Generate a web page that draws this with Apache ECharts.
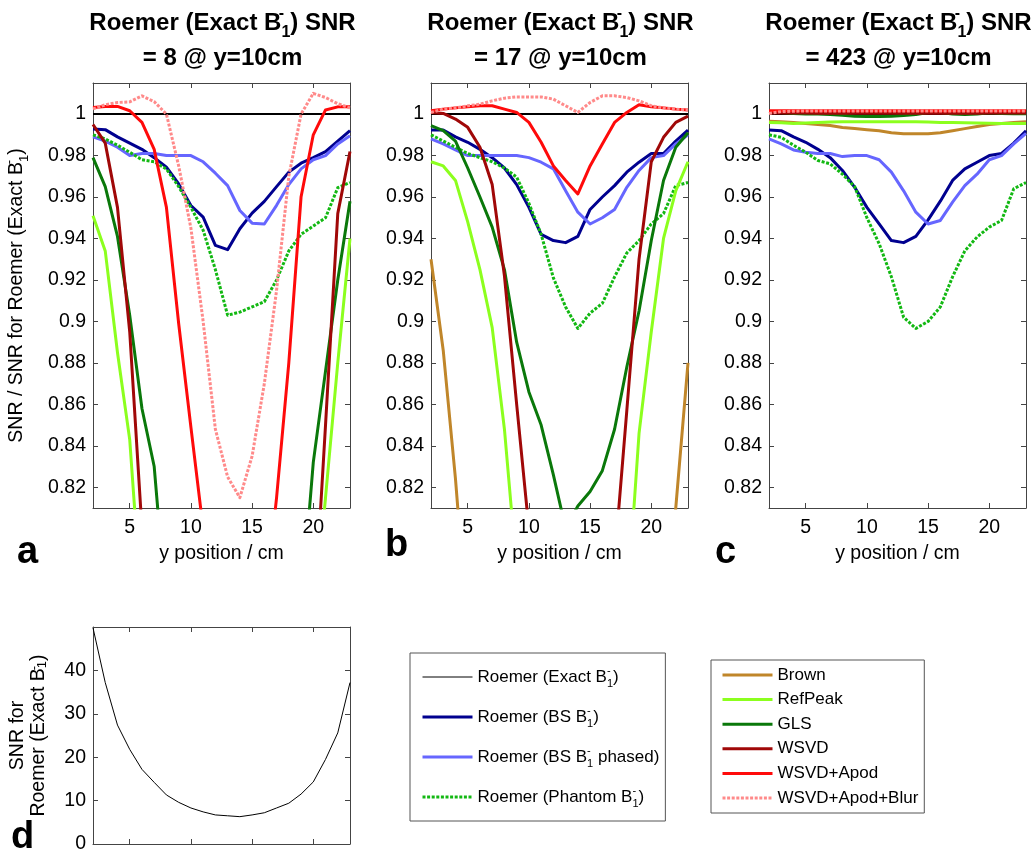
<!DOCTYPE html>
<html><head><meta charset="utf-8">
<script src="https://cdn.jsdelivr.net/npm/echarts@6/dist/echarts.min.js"></script>
<style>html,body{margin:0;padding:0;background:#fff}#c{width:1034px;height:854px}</style>
</head><body><div id="c"></div>
<script>
// ---------------- data ----------------
const yPos = [2,3,4,5,6,7,8,9,10,11,12,13,14,15,16,17,18,19,20,21,22,23];
const xTicks = [5,10,15,20];
const ratioTicks = [0.82,0.84,0.86,0.88,0.9,0.92,0.94,0.96,0.98,1];
const snrTicks = [0,10,20,30,40];
const panelSNR = ['8','17','423'];

// Panel a (SNR = 8)
const exactA   = [1,1,1,1,1,1,1,1,1,1,1,1,1,1,1,1,1,1,1,1,1,1];
const bsA      = [0.9928,0.9925,0.989,0.986,0.983,0.979,0.9744,0.9663,0.9559,0.9503,0.9367,0.9346,0.9447,0.9522,0.9579,0.965,0.972,0.9763,0.979,0.9819,0.987,0.992];
const phasedA  = [0.989,0.987,0.984,0.980,0.981,0.981,0.980,0.980,0.980,0.977,0.9715,0.9655,0.9535,0.9474,0.947,0.956,0.966,0.9736,0.978,0.980,0.9856,0.9895];
const phantomA = [0.990,0.988,0.985,0.9816,0.978,0.977,0.9735,0.965,0.955,0.944,0.925,0.903,0.9045,0.907,0.9095,0.920,0.934,0.942,0.946,0.950,0.9645,0.967];
const brownA   = [0.78,0.75,0.72,0.70,0.68,0.66,0.65,0.64,0.63,0.62,0.62,0.62,0.62,0.62,0.63,0.64,0.65,0.66,0.68,0.70,0.73,0.77];
const refA     = [0.951,0.934,0.885,0.843,0.76,0.70,0.66,0.64,0.62,0.61,0.60,0.60,0.60,0.61,0.62,0.64,0.66,0.70,0.75,0.815,0.88,0.94];
const glsA     = [0.979,0.965,0.941,0.903,0.858,0.83,0.76,0.70,0.66,0.64,0.63,0.62,0.62,0.63,0.64,0.66,0.70,0.76,0.832,0.876,0.92,0.958];
const wsvdA    = [0.995,0.986,0.955,0.895,0.80,0.70,0.64,0.61,0.60,0.60,0.60,0.60,0.60,0.60,0.61,0.63,0.66,0.70,0.75,0.85,0.952,0.982];
const apodA    = [1.0032,1.0037,1.0037,1.0016,0.996,0.983,0.955,0.899,0.849,0.80,0.75,0.71,0.70,0.72,0.76,0.815,0.88,0.96,0.99,1.002,1.0035,1.0035];
const blurA    = [1.0025,1.0045,1.0056,1.0059,1.0088,1.006,1.0,0.975,0.945,0.90,0.848,0.825,0.815,0.835,0.87,0.915,0.97,1.0,1.0100,1.008,1.005,1.003];

// Panel b (SNR = 17)
const exactB   = [1,1,1,1,1,1,1,1,1,1,1,1,1,1,1,1,1,1,1,1,1,1];
const bsB      = [0.9923,0.9923,0.989,0.9864,0.983,0.979,0.974,0.966,0.955,0.942,0.939,0.938,0.941,0.954,0.960,0.9655,0.972,0.9768,0.981,0.981,0.987,0.9923];
const phasedB  = [0.988,0.9856,0.9827,0.980,0.980,0.980,0.980,0.980,0.979,0.9768,0.9736,0.963,0.9527,0.947,0.950,0.954,0.9647,0.9728,0.979,0.980,0.9856,0.990];
const phantomB = [0.990,0.987,0.984,0.981,0.979,0.977,0.974,0.9696,0.957,0.942,0.921,0.907,0.8966,0.904,0.9087,0.9215,0.933,0.939,0.947,0.952,0.9655,0.967];
const brownB   = [0.930,0.886,0.824,0.75,0.70,0.67,0.65,0.64,0.63,0.62,0.62,0.62,0.62,0.62,0.63,0.64,0.65,0.66,0.68,0.74,0.81,0.88];
const refB     = [0.977,0.975,0.968,0.948,0.925,0.897,0.848,0.78,0.73,0.70,0.69,0.69,0.69,0.70,0.72,0.75,0.76,0.846,0.895,0.94,0.963,0.977];
const glsB     = [0.9944,0.992,0.987,0.974,0.960,0.9455,0.925,0.89,0.866,0.850,0.826,0.80,0.811,0.818,0.828,0.848,0.878,0.905,0.939,0.968,0.984,0.991];
const wsvdB    = [1.0008,1.0003,0.9976,0.9936,0.984,0.966,0.922,0.86,0.80,0.74,0.70,0.69,0.69,0.70,0.72,0.785,0.857,0.93,0.977,0.9888,0.996,0.999];
const apodB    = [1.0016,1.0024,1.003,1.0035,1.004,1.004,1.0024,1.0008,0.996,0.9864,0.975,0.968,0.9615,0.975,0.9856,0.996,1.0008,1.0045,1.0035,1.003,1.0024,1.002];
const blurB    = [1.0008,1.0024,1.003,1.004,1.0048,1.0064,1.0077,1.0083,1.0083,1.0083,1.0072,1.004,1.0008,1.0056,1.0088,1.0088,1.008,1.0064,1.004,1.003,1.0024,1.002];

// Panel c (SNR = 423)
const exactC   = [1,1,1,1,1,1,1,1,1,1,1,1,1,1,1,1,1,1,1,1,1,1];
const bsC      = [0.9923,0.992,0.989,0.9864,0.983,0.979,0.9728,0.9647,0.955,0.947,0.939,0.938,0.941,0.949,0.958,0.968,0.9736,0.9768,0.980,0.981,0.986,0.992];
const phasedC  = [0.988,0.9856,0.9827,0.9816,0.981,0.981,0.9795,0.980,0.980,0.978,0.972,0.963,0.9527,0.947,0.9487,0.9575,0.9655,0.971,0.978,0.980,0.9856,0.9907];
const phantomC = [0.990,0.9888,0.985,0.9816,0.9776,0.976,0.971,0.965,0.950,0.9375,0.9215,0.902,0.8966,0.900,0.907,0.9215,0.934,0.9407,0.9455,0.9487,0.964,0.967];
const brownC   = [0.9965,0.9963,0.996,0.9955,0.995,0.9945,0.9935,0.993,0.9925,0.992,0.991,0.9905,0.9905,0.9905,0.991,0.992,0.993,0.994,0.995,0.9955,0.996,0.9963];
const refC     = [0.996,0.9958,0.9955,0.9957,0.996,0.9962,0.9963,0.9963,0.9963,0.9963,0.9963,0.9963,0.9963,0.9962,0.996,0.996,0.9958,0.9957,0.9956,0.9955,0.9955,0.9955];
const glsC     = [1.0012,1.0008,1.0003,1.0,1.0,0.9998,0.9995,0.999,0.9988,0.9988,0.999,0.9993,0.9998,1.0008,1.0008,1.0,0.9998,1.0,1.0006,1.0003,1.0002,1.0002];
const wsvdC    = [1.0005,1.0005,1.0005,1.0005,1.0004,1.0004,1.0004,1.0004,1.0004,1.0004,1.0004,1.0004,1.0004,1.0004,1.0004,1.0004,1.0004,1.0004,1.0005,1.0005,1.0005,1.0005];
const apodC    = [1.0016,1.0016,1.0016,1.0016,1.0016,1.0016,1.0016,1.0016,1.0016,1.0016,1.0016,1.0016,1.0016,1.0016,1.0016,1.0016,1.0016,1.0016,1.0016,1.0016,1.0016,1.0016];
const blurC    = [1.0003,1.0012,1.0014,1.0015,1.0015,1.0015,1.0015,1.0015,1.0015,1.0015,1.0015,1.0015,1.0015,1.0015,1.0015,1.0015,1.0015,1.0015,1.0015,1.0015,1.0015,1.0015];

// Panel d: absolute SNR of Roemer (Exact B1-)
const snrExact = [49.8,37.2,27.4,21.8,17.2,14.2,11.3,9.6,8.3,7.4,6.7,6.5,6.3,6.7,7.2,8.3,9.4,11.5,14.3,19.5,25.6,37.2];

const seriesNames = ['Roemer (Exact B1)','Roemer (BS B1)','Roemer (BS B1 phased)','Roemer (Phantom B1)',
  'Brown','RefPeak','GLS','WSVD','WSVD+Apod','WSVD+Apod+Blur'];
const panelData = [
  [exactA,bsA,phasedA,phantomA,brownA,refA,glsA,wsvdA,apodA,blurA],
  [exactB,bsB,phasedB,phantomB,brownB,refB,glsB,wsvdB,apodB,blurB],
  [exactC,bsC,phasedC,phantomC,brownC,refC,glsC,wsvdC,apodC,blurC]
];

// ---------------- styles ----------------
const FONT = '"Liberation Sans", Arial, Helvetica, sans-serif';
const lineStyles = {
  'Roemer (Exact B1)':     {color:'#000000', width:2,   type:'solid'},
  'Roemer (BS B1)':        {color:'#00008f', width:3,   type:'solid'},
  'Roemer (BS B1 phased)': {color:'#6666ff', width:3,   type:'solid'},
  'Roemer (Phantom B1)':   {color:'#12b812', width:3,   type:[3,1.6]},
  'Brown':                 {color:'#c0862a', width:3,   type:'solid'},
  'RefPeak':               {color:'#8cff1e', width:3,   type:'solid'},
  'GLS':                   {color:'#0a780a', width:3,   type:'solid'},
  'WSVD':                  {color:'#a00808', width:3,   type:'solid'},
  'WSVD+Apod':             {color:'#ff0a0a', width:3,   type:'solid'},
  'WSVD+Apod+Blur':        {color:'#ff8a8a', width:3,   type:[3,1.6]}
};
const legendLabels = {
  'Roemer (Exact B1)': 'Roemer (Exact B{s|-}{b|1})',
  'Roemer (BS B1)': 'Roemer (BS B{s|-}{b|1})',
  'Roemer (BS B1 phased)': 'Roemer (BS B{s|-}{b|1} phased)',
  'Roemer (Phantom B1)': 'Roemer (Phantom B{s|-}{b|1})'
};
function subsup(size, bold){
  const small = Math.round(size*0.66);
  const w = bold ? 'bold' : 'normal';
  return {
    s:{fontSize:small, fontWeight:w, fontFamily:FONT, color:'#000', lineHeight:small, verticalAlign:'top', width:0},
    b:{fontSize:small, fontWeight:w, fontFamily:FONT, color:'#000', lineHeight:small, verticalAlign:'bottom'}
  };
}

const grids = [
  {left:93, top:83, width:257, height:425},
  {left:431, top:83, width:257, height:425},
  {left:769, top:83, width:257, height:425},
  {left:93, top:627, width:257, height:218}
];
const axisLineCol = '#444';
const xAxes = [], yAxes = [];
grids.forEach((g, gi) => {
  const isD = gi === 3;
  xAxes.push({
    gridIndex: gi, type:'value', position:'bottom', min:2, max:23,
    axisLine:{show:true, onZero:false, lineStyle:{color:axisLineCol, width:1}},
    axisTick:{show:true, inside:true, length:5, customValues:xTicks, lineStyle:{color:axisLineCol}},
    axisLabel:{show:!isD, customValues:xTicks, fontSize:19.5, fontFamily:FONT, color:'#000', margin:10},
    splitLine:{show:false},
    name: isD ? '' : 'y position / cm', nameLocation:'middle', nameGap:36,
    nameTextStyle:{fontSize:19.5, fontFamily:FONT, color:'#000'}
  });
  xAxes.push({
    gridIndex: gi, type:'value', position:'top', min:2, max:23,
    axisLine:{show:true, onZero:false, lineStyle:{color:axisLineCol, width:1}},
    axisTick:{show:true, inside:true, length:5, customValues:xTicks, lineStyle:{color:axisLineCol}},
    axisLabel:{show:false}, splitLine:{show:false}
  });
  const yT = isD ? snrTicks : ratioTicks;
  const yAx = {
    gridIndex: gi, type:'value', position:'left',
    min: isD ? 0 : 0.81, max: isD ? 50 : 1.015,
    axisLine:{show:true, onZero:false, lineStyle:{color:axisLineCol, width:1}},
    axisTick:{show:true, inside:true, length:5, customValues:yT, lineStyle:{color:axisLineCol}},
    axisLabel:{show:true, customValues:yT, fontSize:19.5, fontFamily:FONT, color:'#000', margin:7,
      formatter: v => String(+v.toFixed(2))},
    splitLine:{show:false}
  };
  if (gi === 0) {
    yAx.name = 'SNR / SNR for Roemer (Exact B{s|-}{b|1})';
    yAx.nameLocation = 'middle'; yAx.nameRotate = 90; yAx.nameGap = 62;
    yAx.nameTextStyle = {fontSize:19.5, fontFamily:FONT, color:'#000', lineHeight:28, rich: subsup(19.5,false)};
  }
  if (isD) {
    yAx.name = 'SNR for\nRoemer (Exact B{s|-}{b|1})';
    yAx.nameLocation = 'middle'; yAx.nameRotate = 90; yAx.nameGap = 44;
    yAx.nameTextStyle = {fontSize:19.5, fontFamily:FONT, color:'#000', lineHeight:21, rich: subsup(19.5,false)};
  }
  yAxes.push(yAx);
  yAxes.push({
    gridIndex: gi, type:'value', position:'right',
    min: isD ? 0 : 0.81, max: isD ? 50 : 1.015,
    axisLine:{show:true, onZero:false, lineStyle:{color:axisLineCol, width:1}},
    axisTick:{show:true, inside:true, length:5, customValues:yT, lineStyle:{color:axisLineCol}},
    axisLabel:{show:false}, splitLine:{show:false}
  });
});

const series = [];
panelData.forEach((arrs, pi) => {
  arrs.forEach((arr, si) => {
    const name = seriesNames[si];
    const ls = lineStyles[name];
    series.push({
      type:'line', name, xAxisIndex: pi*2, yAxisIndex: pi*2,
      data: yPos.map((x, i) => [x, arr[i]]),
      symbol:'none', showSymbol:false, clip:true, silent:true,
      lineStyle:{color:ls.color, width:ls.width, type:ls.type, cap:'butt', join:'round'},
      itemStyle:{color:ls.color}
    });
  });
});
series.push({
  type:'line', name:'SNR exact', xAxisIndex:6, yAxisIndex:6,
  data: yPos.map((x, i) => [x, snrExact[i]]),
  symbol:'none', showSymbol:false, clip:true, silent:true,
  lineStyle:{color:'#000', width:1}, itemStyle:{color:'#000'}
});

const titleRich = subsup(24, true);
const titles = panelSNR.map((v, i) => ({
  text: 'Roemer (Exact B{s|-}{b|1}) SNR\n= ' + v + ' @ y=10cm',
  left: grids[i].left + grids[i].width/2 - 4, top: 1, textAlign:'center',
  textStyle:{fontSize:24, fontWeight:'bold', fontFamily:FONT, color:'#000', lineHeight:35, align:'center', rich:titleRich}
}));

const legendText = {fontSize:17, fontFamily:FONT, color:'#000', rich: subsup(17,false)};
const hiddenMarker = {opacity:0, color:'rgba(0,0,0,0)', borderWidth:0};
const legendItem = n => {
  const ls = lineStyles[n];
  return {name:n, lineStyle:{color:ls.color, width: n === 'Roemer (Exact B1)' ? 1 : 3, type:ls.type}};
};
const option = {
  animation:false,
  backgroundColor:'#fff',
  title: titles,
  grid: grids,
  xAxis: xAxes,
  yAxis: yAxes,
  legend: [
    {
      orient:'vertical', left:410, top:653, itemWidth:50, itemHeight:12, itemGap:16,
      padding:[12,6,12,11], borderColor:'#555', borderWidth:1, selectedMode:false,
      itemStyle: hiddenMarker,
      data: seriesNames.slice(0,4).map(legendItem),
      formatter: n => legendLabels[n] || n,
      textStyle: Object.assign({lineHeight:24}, legendText)
    },
    {
      orient:'vertical', left:711, top:660, itemWidth:50, itemHeight:12, itemGap:4.6,
      padding:[5,6,5,10], borderColor:'#555', borderWidth:1, selectedMode:false,
      itemStyle: hiddenMarker,
      data: seriesNames.slice(4).map(legendItem),
      textStyle: Object.assign({lineHeight:20}, legendText)
    }
  ],
  graphic: [
    {type:'text', left:17, top:534, style:{text:'a', font:'bold 38px ' + FONT, fill:'#000'}},
    {type:'text', left:385, top:527, style:{text:'b', font:'bold 38px ' + FONT, fill:'#000'}},
    {type:'text', left:715, top:534, style:{text:'c', font:'bold 38px ' + FONT, fill:'#000'}},
    {type:'text', left:11, top:819, style:{text:'d', font:'bold 38px ' + FONT, fill:'#000'}}
  ],
  series
};
const chart = echarts.init(document.getElementById('c'), null, {renderer:'canvas'});
chart.setOption(option);
</script>
</body></html>
